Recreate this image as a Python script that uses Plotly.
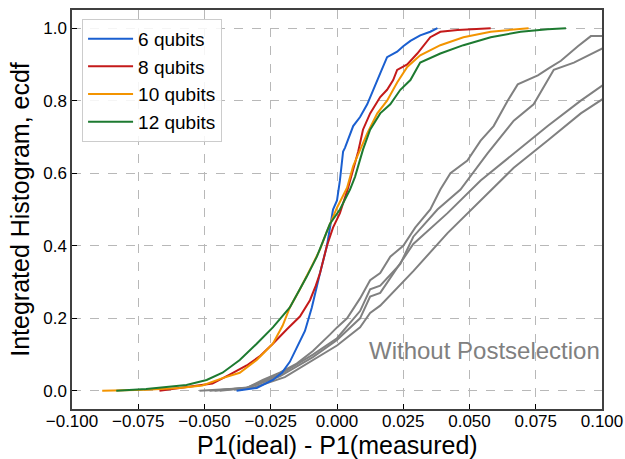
import plotly.graph_objects as go

# ---- data ----
labels = ["6 qubits", "8 qubits", "10 qubits", "12 qubits"]
colors = ["#1a5fd0", "#c41a1a", "#f39400", "#1d7a30"]

x6 = [-0.0379, -0.0303, -0.0242, -0.0208, -0.0178, -0.0152, -0.0121, -0.0095, -0.0076, -0.0064,
      -0.0038, -0.0027, -0.0015, 0.0, 0.0011, 0.0023, 0.0030, 0.0061, 0.0087, 0.0114,
      0.0136, 0.0163, 0.0189, 0.0227, 0.025, 0.0277, 0.0314, 0.0352, 0.0379]
y6 = [0.0, 0.008, 0.03, 0.05, 0.08, 0.12, 0.165, 0.23, 0.29, 0.325,
      0.40, 0.45, 0.50, 0.525, 0.58, 0.66, 0.67, 0.73, 0.755, 0.79,
      0.83, 0.875, 0.92, 0.935, 0.95, 0.965, 0.98, 0.99, 1.0]

x8 = [-0.067, -0.0568, -0.047, -0.0405, -0.0341, -0.0292, -0.0242, -0.0189, -0.014, -0.0102,
      -0.008, -0.0064, -0.0038, -0.0015, 0.0011, 0.0042, 0.0061, 0.008, 0.0098, 0.0125,
      0.0163, 0.0189, 0.0212, 0.0227, 0.0265, 0.0303, 0.0352, 0.039, 0.0455, 0.058]
y8 = [0.0, 0.01, 0.02, 0.045, 0.07, 0.095, 0.13, 0.17, 0.205, 0.25,
      0.29, 0.325, 0.40, 0.45, 0.49, 0.56, 0.61, 0.66, 0.72, 0.765,
      0.81, 0.83, 0.857, 0.885, 0.90, 0.93, 0.975, 0.99, 0.995, 1.0]

x10 = [-0.0886, -0.072, -0.0595, -0.0508, -0.0432, -0.0367, -0.0303, -0.0242, -0.0205, -0.0178,
       -0.014, -0.0114, -0.0091, -0.0064, -0.0038, 0.0, 0.0038, 0.0061, 0.0087, 0.0114,
       0.0152, 0.0189, 0.0227, 0.0265, 0.0314, 0.039, 0.0477, 0.058, 0.0723]
y10 = [0.0, 0.003, 0.008, 0.015, 0.035, 0.05, 0.085, 0.13, 0.18, 0.23,
       0.28, 0.315, 0.35, 0.39, 0.44, 0.505, 0.56, 0.62, 0.665, 0.71,
       0.765, 0.80, 0.85, 0.893, 0.925, 0.953, 0.975, 0.99, 1.0]

x12 = [-0.0833, -0.072, -0.0568, -0.0492, -0.0432, -0.0367, -0.0303, -0.0242, -0.0178, -0.014,
       -0.0114, -0.0076, -0.0027, 0.0011, 0.0049, 0.0068, 0.0087, 0.0098, 0.0125, 0.0163,
       0.0201, 0.0239, 0.0277, 0.0314, 0.039, 0.0477, 0.058, 0.0693, 0.0795, 0.0864]
y12 = [0.0, 0.005, 0.016, 0.03, 0.05, 0.085, 0.13, 0.175, 0.23, 0.28,
       0.315, 0.37, 0.46, 0.50, 0.555, 0.59, 0.635, 0.665, 0.72, 0.765,
       0.79, 0.83, 0.857, 0.905, 0.93, 0.953, 0.975, 0.99, 0.997, 1.0]

# without postselection (gray)
xg1 = [-0.0519, -0.0341, -0.028, -0.0216, -0.0152, -0.0091, -0.0027, 0.0, 0.0038, 0.0087,
       0.0125, 0.0163, 0.0201, 0.025, 0.0295, 0.0352, 0.039, 0.0428, 0.0492, 0.0542,
       0.0591, 0.0617, 0.0644, 0.0682, 0.0758, 0.08, 0.0845, 0.0909, 0.0958, 0.1004]
yg1 = [0.0, 0.008, 0.03, 0.05, 0.075, 0.11, 0.155, 0.175, 0.20, 0.255,
       0.305, 0.325, 0.37, 0.40, 0.45, 0.50, 0.555, 0.60, 0.635, 0.69,
       0.73, 0.765, 0.80, 0.845, 0.87, 0.89, 0.91, 0.95, 0.978, 0.978]

xg2 = [-0.0481, -0.0341, -0.0216, -0.0091, 0.0, 0.0087, 0.0125, 0.0163, 0.0239, 0.0288,
       0.0379, 0.0466, 0.0568, 0.0667, 0.0742, 0.0818, 0.0894, 0.1004]
yg2 = [0.0, 0.008, 0.045, 0.10, 0.145, 0.22, 0.28, 0.29, 0.35, 0.425,
       0.50, 0.555, 0.655, 0.745, 0.79, 0.885, 0.905, 0.945]

xg3 = [-0.0462, -0.033, -0.0216, -0.0091, 0.0, 0.0087, 0.0125, 0.0163, 0.0288, 0.0417,
       0.0542, 0.0667, 0.0795, 0.092, 0.1004]
yg3 = [0.0, 0.01, 0.04, 0.093, 0.14, 0.20, 0.26, 0.27, 0.405, 0.49,
       0.58, 0.655, 0.73, 0.80, 0.843]

xg4 = [-0.0443, -0.0311, -0.0197, -0.0091, 0.0, 0.0087, 0.0125, 0.0163, 0.0288, 0.0417,
       0.0542, 0.0667, 0.0795, 0.092, 0.1004]
yg4 = [0.0, 0.01, 0.038, 0.085, 0.125, 0.175, 0.215, 0.235, 0.33, 0.435,
       0.525, 0.615, 0.69, 0.765, 0.805]

x_ticks = [-0.1, -0.075, -0.05, -0.025, 0.0, 0.025, 0.05, 0.075, 0.1]
y_ticks = [0.0, 0.2, 0.4, 0.6, 0.8, 1.0]

FONT = "Liberation Sans, Arial, sans-serif"
GRAY = "#808080"

fig = go.Figure()
for xs, ys in [(xg1, yg1), (xg2, yg2), (xg3, yg3), (xg4, yg4)]:
    fig.add_trace(go.Scatter(x=xs, y=ys, mode="lines", line=dict(color=GRAY, width=2),
                             showlegend=False, hoverinfo="skip"))

series = [(x6, y6), (x8, y8), (x10, y10), (x12, y12)]
for (xs, ys), lab, col in zip(series, labels, colors):
    fig.add_trace(go.Scatter(x=xs, y=ys, mode="lines", name=lab,
                             line=dict(color=col, width=2)))

axis_common = dict(
    showline=True, linecolor="#404040", linewidth=1.5, mirror=True,
    showgrid=True, gridcolor="#b8b8b8", gridwidth=1, griddash="dash",
    ticks="inside", ticklen=5, tickwidth=1, tickcolor="#000000",
    tickfont=dict(family=FONT, size=17, color="#000000"),
    ticklabeloverflow="allow",
    zeroline=False, automargin=False,
)

fig.update_layout(
    width=625, height=459,
    margin=dict(l=72, r=23, t=10, b=50),
    paper_bgcolor="white", plot_bgcolor="white",
    font=dict(family=FONT, color="#000000"),
    xaxis=dict(range=[-0.1, 0.1], tickvals=x_ticks, tickformat=".3f",
               ticklabelstandoff=-4, **axis_common),
    yaxis=dict(range=[-0.05, 1.05], tickvals=y_ticks, tickformat=".1f",
               title=dict(text="Integrated Histogram, ecdf", font=dict(family=FONT, size=25), standoff=6),
               **axis_common),
    legend=dict(x=0.019, y=0.978, xanchor="left", yanchor="top", itemwidth=45,
                font=dict(family=FONT, size=19, color="#000000"),
                bgcolor="rgba(255,255,255,0.85)", bordercolor="#cccccc", borderwidth=1),
    annotations=[
        dict(x=0.0557, y=0.11, xref="x", yref="y", text="Without Postselection",
             showarrow=False, font=dict(family=FONT, size=24, color=GRAY)),
        # x-axis title
        dict(x=0.5, y=-0.090, xref="paper", yref="paper", xanchor="center", yanchor="middle",
             text="P1(ideal) - P1(measured)", showarrow=False,
             font=dict(family=FONT, size=25, color="#000000")),
    ],
)

# remove the browser's default 8px body margin so the figure fills the window exactly
fig.write_html("out.html", config={"displayModeBar": False},
               post_script="document.body.style.margin='0';")
